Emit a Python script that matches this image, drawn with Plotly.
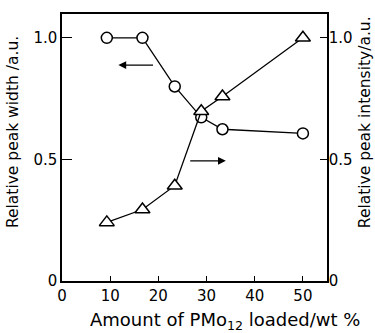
import plotly.graph_objects as go

loading = [9.3, 16.7, 23.4, 28.9, 33.3, 50]
peak_width = [1.0, 1.0, 0.80, 0.673, 0.624, 0.607]
peak_intensity = [0.241, 0.294, 0.392, 0.698, 0.759, 1.0]
x_ticks = [0, 10, 20, 30, 40, 50]
y_ticks = [0, 0.5, 1.0]
y_ticktext = ["0", "0.5", "1.0"]

FONT = "DejaVu Sans"
fig = go.Figure()
fig.add_trace(go.Scatter(x=loading, y=peak_width, mode="lines+markers",
                         line=dict(color="black", width=1.3),
                         marker=dict(symbol="circle", size=11, color="white",
                                     line=dict(color="black", width=1.5)),
                         yaxis="y", showlegend=False))
fig.add_trace(go.Scatter(x=loading, y=peak_intensity, mode="lines+markers",
                         line=dict(color="black", width=1.3),
                         marker=dict(symbol="triangle-up", size=13, color="white",
                                     line=dict(color="black", width=1.5)),
                         yaxis="y2", showlegend=False))

axis_common = dict(showgrid=False, zeroline=False, showline=True, linecolor="black",
                   linewidth=1.5, ticks="inside", tickcolor="black",
                   tickfont=dict(family=FONT, size=15, color="black"))

fig.update_layout(
    width=375, height=333,
    margin=dict(l=62, r=48, t=12, b=52),
    plot_bgcolor="white", paper_bgcolor="white",
    xaxis=dict(range=[0, 55], tickvals=x_ticks, ticklen=5, tickwidth=1.3, mirror=True, **axis_common),
    yaxis=dict(range=[0, 1.098], tickvals=y_ticks, ticktext=y_ticktext, ticklen=10, tickwidth=1.3,
               **axis_common),
    yaxis2=dict(range=[0, 1.098], tickvals=y_ticks, ticktext=y_ticktext, ticklen=7, tickwidth=1.3,
                overlaying="y", side="right", ticklabelstandoff=-3, **axis_common),
)

annotations = [
    dict(x=13, y=131, text="Relative peak width /a.u.",
         textangle=-90, showarrow=False, font=dict(family=FONT, size=15.5, color="black")),
    dict(x=365, y=121, text="Relative peak intensity/a.u.",
         textangle=-90, showarrow=False, font=dict(family=FONT, size=15.5, color="black")),
    dict(x=225, y=321, text="Amount of PMo<sub>12</sub> loaded/wt %",
         showarrow=False, font=dict(family=FONT, size=18, color="black")),
]
# convert pixel positions to paper coords
pl, pr, pt, pb = 62, 327, 12, 281
for a in annotations:
    a["x"] = (a["x"] - pl) / (pr - pl)
    a["y"] = (pb - a["y"]) / (pb - pt)
    a["xref"] = "paper"
    a["yref"] = "paper"
    a["xanchor"] = "center"
    a["yanchor"] = "middle"

annotations += [
    dict(x=11.7, y=0.888, ax=19.2, ay=0.888, xref="x", yref="y", axref="x", ayref="y",
         showarrow=True, arrowhead=2, arrowsize=1.2, arrowwidth=1.3, arrowcolor="black", text=""),
    dict(x=34, y=0.494, ax=26.3, ay=0.494, xref="x", yref="y", axref="x", ayref="y",
         showarrow=True, arrowhead=2, arrowsize=1.2, arrowwidth=1.3, arrowcolor="black", text=""),
]
fig.update_layout(annotations=annotations)
fig.write_html("out.html")
